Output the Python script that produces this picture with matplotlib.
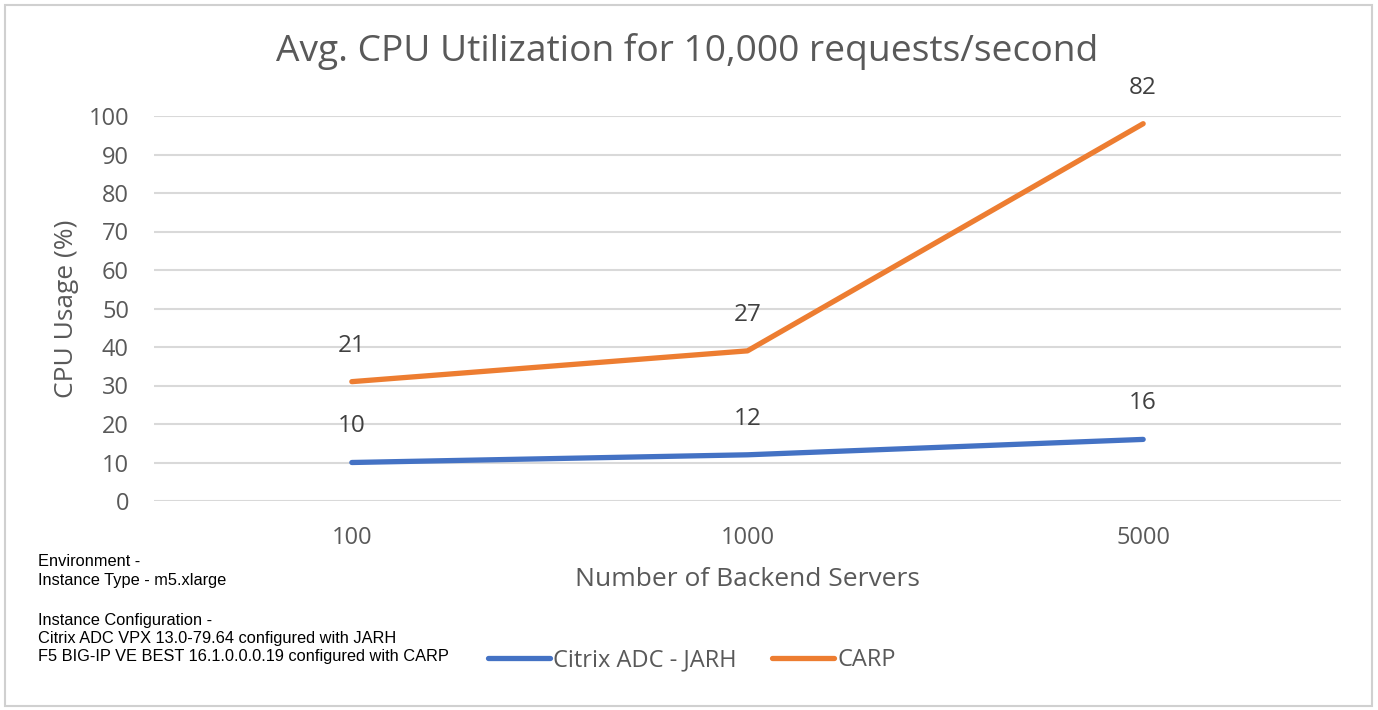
import matplotlib
matplotlib.use("Agg")
import matplotlib.pyplot as plt
from matplotlib.patches import Rectangle
import numpy as np

categories = ["100", "1000", "5000"]
citrix = [10, 12, 16]
carp = [21, 27, 82]
yticks = list(range(0, 101, 10))

W, H = 1378, 710
fig = plt.figure(figsize=(W / 100, H / 100), dpi=100)
fig.patch.set_facecolor("white")
fig.patches.append(Rectangle((5 / W, 4 / H), 1367 / W, 701 / H, transform=fig.transFigure,
                             fill=False, edgecolor="#D0D0D0", linewidth=1.5))

FONT = ["Open Sans", "DejaVu Sans"]
GRAY = "#595959"

ax = fig.add_axes([154 / W, (H - 501) / H, (1341 - 154) / W, (501 - 116) / H])
x = np.arange(len(categories))
stack_top = np.array(citrix) + np.array(carp)

ax.plot(x, citrix, color="#4472C4", linewidth=3.8, solid_capstyle="round",
        solid_joinstyle="round", label="Citrix ADC - JARH", zorder=3)
ax.plot(x, stack_top, color="#ED7D31", linewidth=3.8, solid_capstyle="round",
        solid_joinstyle="round", label="CARP", zorder=3)

for xi, yv, lab in zip(x, citrix, citrix):
    ax.annotate(str(lab), (xi, yv), xytext=(0, 26), textcoords="offset points",
                ha="center", va="center", fontsize=17.5, color="#404040", family=FONT)
for xi, yv, lab in zip(x, stack_top, carp):
    ax.annotate(str(lab), (xi, yv), xytext=(0, 26), textcoords="offset points",
                ha="center", va="center", fontsize=17.5, color="#404040", family=FONT)

ax.set_xlim(-0.5, len(categories) - 0.5)
ax.set_ylim(0, 100)
ax.set_yticks(yticks)
ax.set_xticks(x)
ax.set_xticklabels(categories)
for lbl in ax.get_xticklabels() + ax.get_yticklabels():
    lbl.set_fontsize(17)
    lbl.set_color(GRAY)
    lbl.set_family(FONT)
ax.tick_params(axis="both", length=0)
ax.tick_params(axis="y", pad=18)
ax.tick_params(axis="x", pad=18)
ax.grid(axis="y", color="#D9D9D9", linewidth=1.5)
ax.set_axisbelow(True)
for s in ax.spines.values():
    s.set_visible(False)

ax.set_ylabel("CPU Usage (%)", fontsize=19, color=GRAY, family=FONT, labelpad=7)
ax.set_xlabel("Number of Backend Servers", fontsize=19, color=GRAY, family=FONT, labelpad=12)

fig.text(687 / W, 1 - 52 / H, "Avg. CPU Utilization for 10,000 requests/second",
         ha="center", va="center", fontsize=26.7, color=GRAY, family=FONT)

notes = ["Environment -", "Instance Type - m5.xlarge", "",
         "Instance Configuration -", "Citrix ADC VPX 13.0-79.64 configured with JARH",
         "F5 BIG-IP VE BEST 16.1.0.0.0.19 configured with CARP"]
ys = [562, 580, 0, 620, 638, 656]
for t, yy in zip(notes, ys):
    if t:
        fig.text(38 / W, 1 - yy / H, t, ha="left", va="center", fontsize=11.8,
                 color="black", family=["Liberation Sans", "DejaVu Sans"])

leg = fig.legend(loc="center", bbox_to_anchor=(692 / W, 1 - 660 / H), ncol=2, frameon=False,
                 prop={"family": FONT, "size": 17}, handlelength=2.6, handletextpad=0.15,
                 columnspacing=1.5)
for t in leg.get_texts():
    t.set_color(GRAY)

fig.savefig("out.png", dpi=100)
